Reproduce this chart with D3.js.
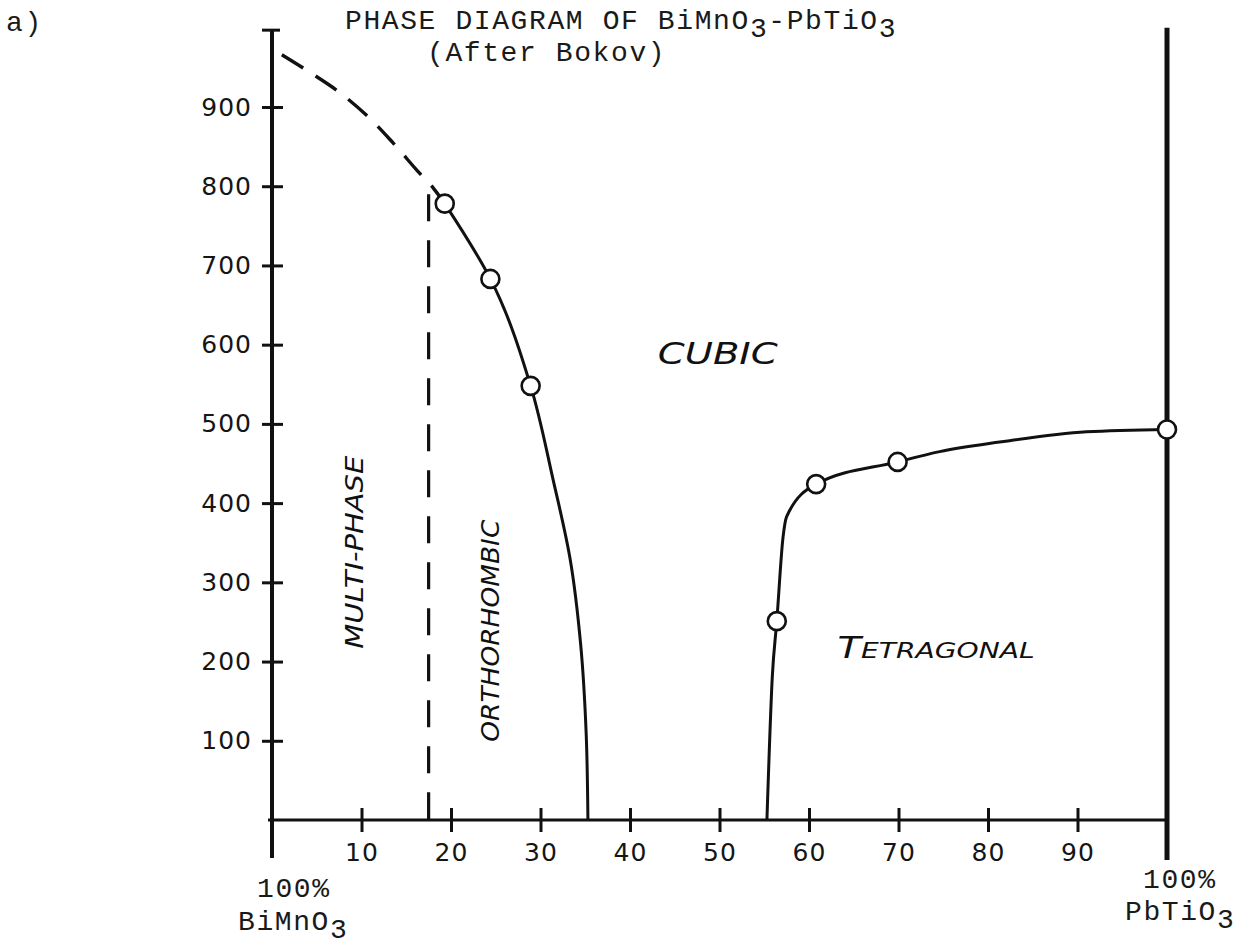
<!DOCTYPE html>
<html>
<head>
<meta charset="utf-8">
<script src="https://cdn.jsdelivr.net/npm/d3@7"></script>
<style>
  body { margin: 0; background: #fff; }
  svg { display: block; }
  .tw { font-family: "Liberation Mono", "DejaVu Sans Mono", monospace; font-size: 28px; letter-spacing: 1.6px; fill: #1a1a1a; }
  .tick text { font-family: "DejaVu Sans", sans-serif; font-size: 25px; letter-spacing: 1px; fill: #151515; }
  .region { font-family: "DejaVu Sans", sans-serif; font-style: italic; fill: #111; }
</style>
</head>
<body>
<div id="chart"></div>
<script>
// composition axis (mol % PbTiO3) and temperature axis ticks
var xTicks = [10, 20, 30, 40, 50, 60, 70, 80, 90];
var yTicks = [100, 200, 300, 400, 500, 600, 700, 800, 900];

// measured transition points (open circles)
var orthoPoints = [[19.3, 778], [24.4, 683], [28.9, 548]];
var tetraPoints = [[56.4, 251], [60.8, 424], [69.9, 452], [100, 493]];

// orthorhombic / cubic boundary (solid)
var orthoBoundary = [[19.3, 778], [24.4, 683], [28.9, 548], [31.4, 430], [33.3, 330],
                     [34.5, 220], [35.1, 110], [35.3, 0]];
// extrapolated part towards pure BiMnO3 (dashed)
var orthoExtrap = [[1.1, 966], [4.2, 944], [7.6, 918], [10.9, 886], [13.5, 855],
                   [16.2, 820], [18.0, 798], [19.3, 778]];
// multiphase / orthorhombic limit (dashed vertical)
var multiLimit = [[17.5, 790], [17.5, 0]];
// tetragonal / cubic boundary (solid)
var tetraBoundary = [[55.3, 0], [55.9, 181], [56.4, 251], [57.1, 357], [57.5, 383],
                     [60.8, 424], [69.9, 452], [74.6, 465], [81.3, 477], [91.0, 490], [100, 493]];

var regionNames = ["MULTI-PHASE", "ORTHORHOMBIC", "CUBIC", "TETRAGONAL"];

var w = 1241, h = 947;

var svg = d3.select("#chart").append("svg")
   .attr("width", w)
   .attr("height", h);

var xScale = d3.scaleLinear().domain([0, 100]).range([272, 1167]);
var yScale = d3.scaleLinear().domain([0, 900]).range([820, 107]);

var ink = "#111";

//axis lines (drawn by hand, they overshoot the plot like in the original)
svg.append("line")
   .attr("x1", xScale(0)).attr("x2", xScale(0))
   .attr("y1", yScale(997)).attr("y2", yScale(0) + 38)
   .attr("stroke", ink).attr("stroke-width", 4);
svg.append("line")
   .attr("x1", xScale(0) - 10).attr("x2", xScale(0) + 8)
   .attr("y1", yScale(997)).attr("y2", yScale(997))
   .attr("stroke", ink).attr("stroke-width", 3);
svg.append("line")
   .attr("x1", xScale(100)).attr("x2", xScale(100))
   .attr("y1", yScale(1000)).attr("y2", yScale(0) + 40)
   .attr("stroke", ink).attr("stroke-width", 5);
svg.append("line")
   .attr("x1", xScale(0) - 4).attr("x2", xScale(100))
   .attr("y1", yScale(0)).attr("y2", yScale(0))
   .attr("stroke", ink).attr("stroke-width", 3);

//Y axis
var yAxis = d3.axisLeft(yScale)
   .tickValues(yTicks)
   .tickSize(10)
   .tickPadding(10)
   .tickFormat(d3.format("d"));

var gy = svg.append("g")
   .attr("transform", "translate(" + xScale(0) + ",0)")
   .call(yAxis);
gy.select(".domain").remove();
gy.selectAll(".tick line")
   .attr("x1", -10).attr("x2", 11)
   .attr("stroke", ink).attr("stroke-width", 3);

//X axis
var xAxis = d3.axisBottom(xScale)
   .tickValues(xTicks)
   .tickSize(12)
   .tickFormat(d3.format("d"));

var gx = svg.append("g")
   .attr("transform", "translate(0," + yScale(0) + ")")
   .call(xAxis);
gx.select(".domain").remove();
gx.selectAll(".tick line")
   .attr("y1", -12).attr("y2", 12)
   .attr("stroke", ink).attr("stroke-width", 3);
gx.selectAll(".tick text")
   .attr("y", 32)
   .attr("dy", "0.35em");

// phase boundaries
var straight = d3.line()
   .x(function(d) { return xScale(d[0]); })
   .y(function(d) { return yScale(d[1]); });
var smooth = d3.line()
   .x(function(d) { return xScale(d[0]); })
   .y(function(d) { return yScale(d[1]); })
   .curve(d3.curveCatmullRom.alpha(0.5));
var smoothY = d3.line()
   .x(function(d) { return xScale(d[0]); })
   .y(function(d) { return yScale(d[1]); })
   .curve(d3.curveMonotoneY);
var smoothX = d3.line()
   .x(function(d) { return xScale(d[0]); })
   .y(function(d) { return yScale(d[1]); })
   .curve(d3.curveMonotoneX);

svg.append("path")
   .attr("d", smooth(orthoExtrap))
   .attr("fill", "none").attr("stroke", ink).attr("stroke-width", 3.4)
   .attr("stroke-dasharray", "25,15");

svg.append("path")
   .attr("d", straight(multiLimit))
   .attr("fill", "none").attr("stroke", ink).attr("stroke-width", 3.2)
   .attr("stroke-dasharray", "27,19");

svg.append("path")
   .attr("d", smoothY(orthoBoundary))
   .attr("fill", "none").attr("stroke", ink).attr("stroke-width", 3);

svg.append("path")
   .attr("d", smoothX(tetraBoundary))
   .attr("fill", "none").attr("stroke", ink).attr("stroke-width", 3);

svg.selectAll("circle.pt")
   .data(orthoPoints.concat(tetraPoints))
   .enter()
   .append("circle")
   .attr("class", "pt")
   .attr("cx", function(d) { return xScale(d[0]); })
   .attr("cy", function(d) { return yScale(d[1]); })
   .attr("r", 9)
   .attr("fill", "#fff")
   .attr("stroke", ink)
   .attr("stroke-width", 2.6);

// region labels
svg.append("text").attr("class", "region")
   .attr("transform", "translate(" + (xScale(9.2) + 9) + "," + yScale(338) + ") rotate(-90)")
   .attr("text-anchor", "middle")
   .attr("font-size", 24)
   .attr("textLength", 193).attr("lengthAdjust", "spacingAndGlyphs")
   .text(regionNames[0]);

svg.append("text").attr("class", "region")
   .attr("transform", "translate(" + (xScale(24.4) + 9) + "," + yScale(239) + ") rotate(-90)")
   .attr("text-anchor", "middle")
   .attr("font-size", 25)
   .attr("textLength", 222).attr("lengthAdjust", "spacingAndGlyphs")
   .text(regionNames[1]);

svg.append("text").attr("class", "region")
   .attr("x", xScale(49.8)).attr("y", yScale(590) + 11)
   .attr("text-anchor", "middle")
   .attr("font-size", 30)
   .attr("textLength", 120).attr("lengthAdjust", "spacingAndGlyphs")
   .text(regionNames[2]);

var tet = svg.append("text").attr("class", "region")
   .attr("x", xScale(63.2)).attr("y", yScale(218) + 11)
   .attr("textLength", 197).attr("lengthAdjust", "spacingAndGlyphs");
tet.append("tspan").attr("font-size", 30).text(regionNames[3].slice(0, 1));
tet.append("tspan").attr("font-size", 22).text(regionNames[3].slice(1));

// typewritten annotations, subscripts are set as their own pieces
function typed(x, y, parts) {
   var cx = x;
   parts.forEach(function(p) {
      var t = svg.append("text")
         .attr("class", "tw")
         .attr("x", cx)
         .attr("y", p.sub ? y + 8 : y)
         .text(p.s);
      cx += t.node().getComputedTextLength();
   });
}

typed(6, 31, [{s: "a)"}]);
typed(345, 29, [{s: "PHASE DIAGRAM OF BiMnO"}, {s: "3", sub: true}, {s: "-PbTiO"}, {s: "3", sub: true}]);
typed(427, 61, [{s: "(After Bokov)"}]);

typed(257, 897, [{s: "100%"}]);
typed(238, 930, [{s: "BiMnO"}, {s: "3", sub: true}]);

typed(1143, 888, [{s: "100%"}]);
typed(1125, 920, [{s: "PbTiO"}, {s: "3", sub: true}]);
</script>
</body>
</html>
